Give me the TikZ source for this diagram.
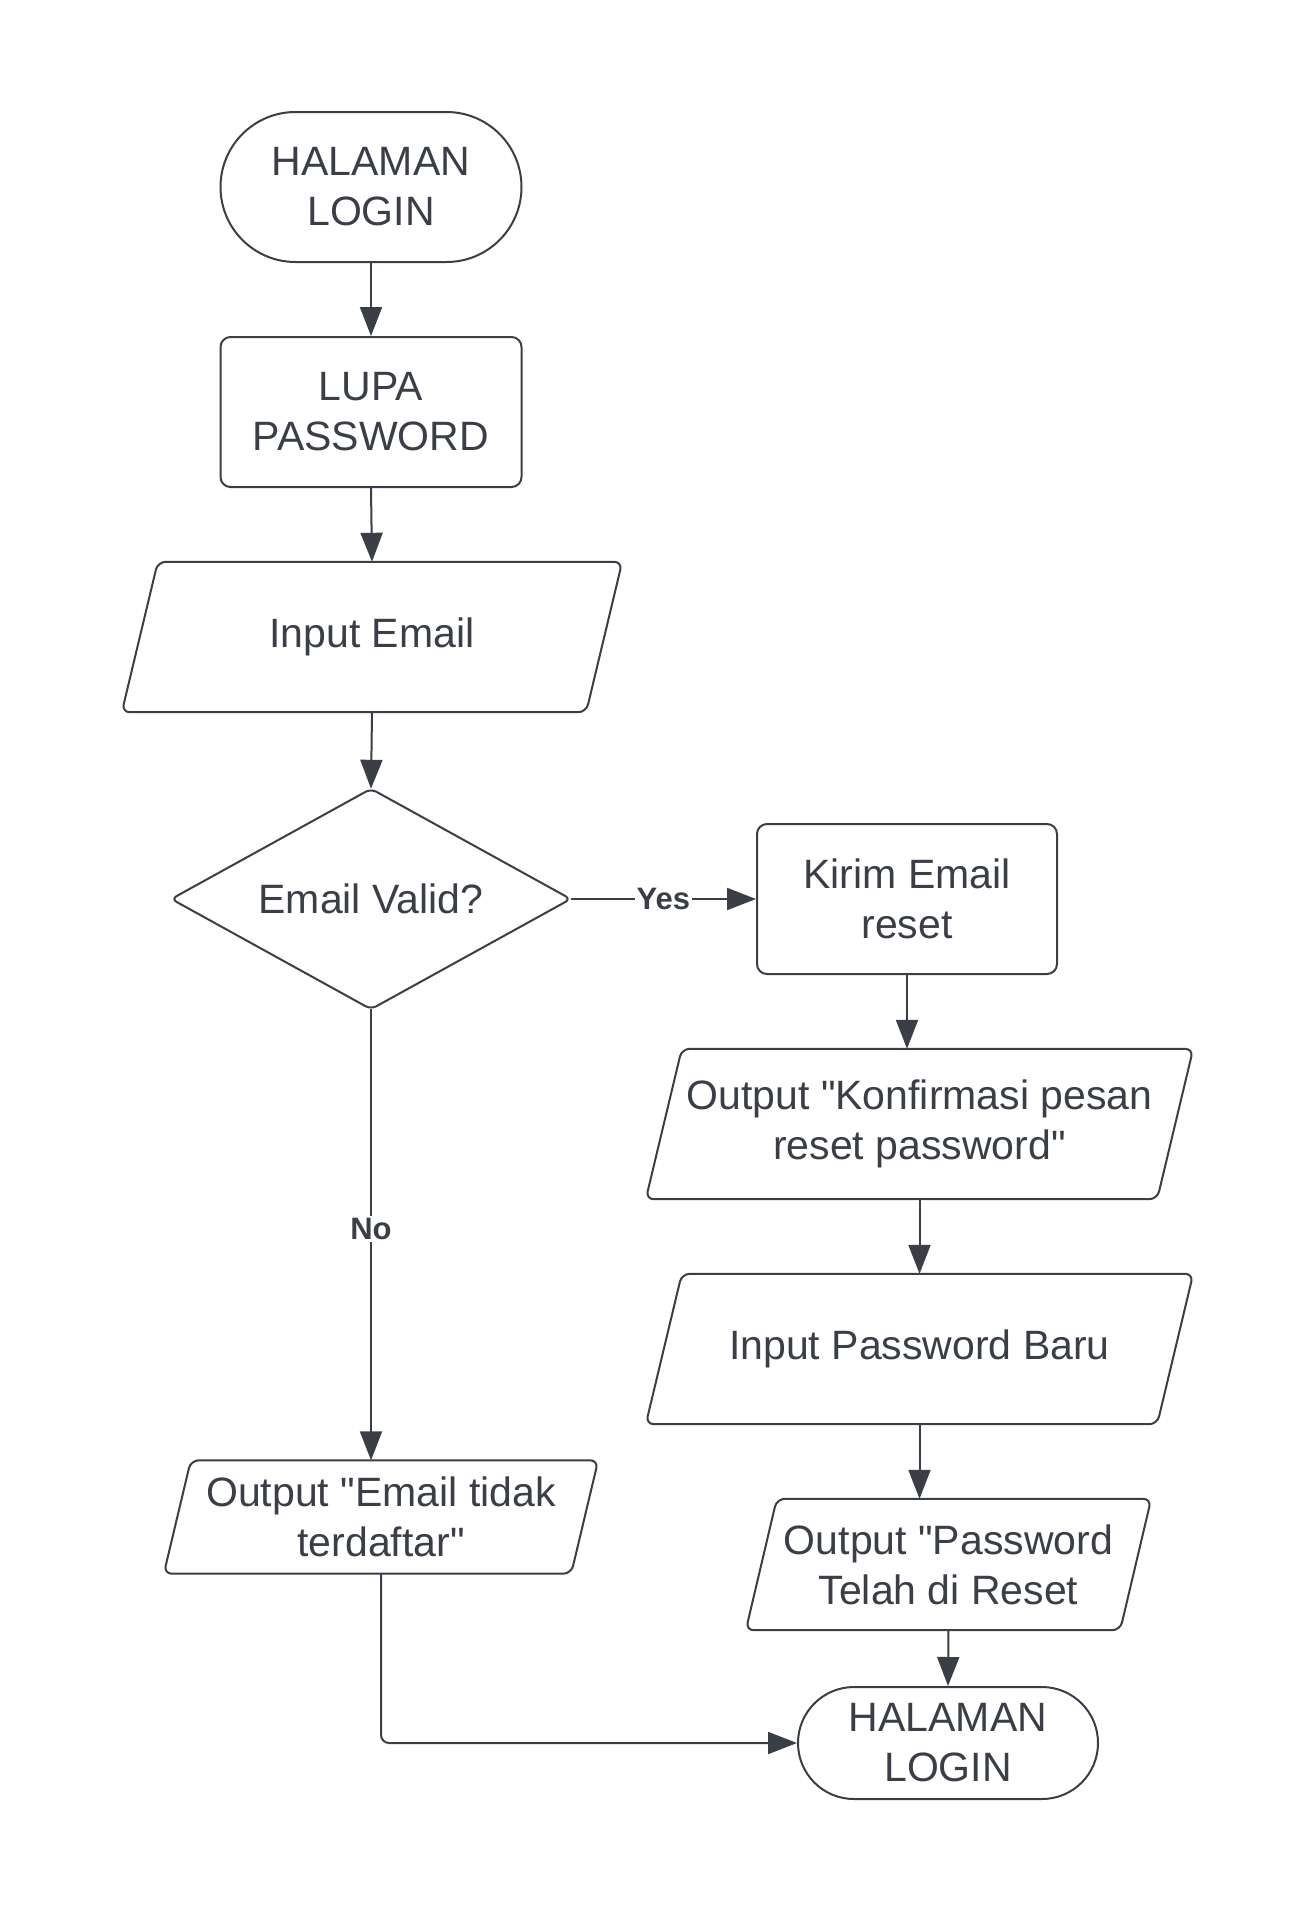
\documentclass[tikz,border=0pt]{standalone}
\usepackage{fontspec}
\setmainfont{Liberation Sans}[Ligatures=TeXOff]
\usetikzlibrary{arrows.meta,calc}
\definecolor{ink}{HTML}{3A3F47}
\begin{document}
\begin{tikzpicture}[x=1pt,y=-1pt,
  every node/.style={text=ink, font=\fontsize{41}{50}\selectfont, align=center, inner sep=0pt},
  shp/.style={draw=ink, line width=2pt},
  proc/.style={shp, rounded corners=10pt},
  term/.style={shp, rounded corners=#1},
  conn/.style={draw=ink, line width=2pt, -{Triangle[length=29pt,width=22pt]}},
  lbl/.style={font=\bfseries\fontsize{31}{36}\selectfont, fill=white, inner sep=2pt}]
\fill[white] (0,0) rectangle (1307,1909);
\useasboundingbox (0,0) rectangle (1307,1909);

\node[term=75pt, minimum width=301pt, minimum height=150pt] (start) at (371,187) {HALAMAN\\LOGIN};
\node[proc, minimum width=301pt, minimum height=150pt] (lupa) at (371,412) {LUPA\\PASSWORD};
\node[minimum width=500pt, minimum height=150pt] (inemail) at (372,637) {Input Email};
\node[minimum width=399pt, minimum height=220pt] (valid) at (371,899) {Email Valid?};
\node[proc, minimum width=300pt, minimum height=150pt] (kirim) at (907,899) {Kirim Email\\reset};
\node[minimum width=547pt, minimum height=150pt] (konf) at (919.5,1124) {Output "Konfirmasi pesan\\reset password"};
\node[minimum width=547pt, minimum height=150pt] (inpass) at (919.5,1349) {Input Password Baru};
\node[minimum width=405pt, minimum height=131pt] (outpass) at (948.5,1564.5) {Output "Password\\Telah di Reset};
\node[term=56pt, minimum width=300pt, minimum height=112pt] (finish) at (948,1743) {HALAMAN\\LOGIN};
\node[minimum width=434pt, minimum height=113pt] (outemail) at (381,1517) {Output "Email tidak\\terdaftar"};

\foreach \n/\s in {inemail/36, konf/36, inpass/36, outpass/31, outemail/27}
  \draw[shp, rounded corners=8pt] ($(\n.north west)+(\s,0)$) -- (\n.north east) -- ($(\n.south east)-(\s,0)$) -- (\n.south west) -- cycle;
\draw[shp, rounded corners=6pt] (valid.north) -- (valid.east) -- (valid.south) -- (valid.west) -- cycle;

\draw[conn] (start.south) -- (lupa.north);
\draw[conn] (lupa.south) -- (inemail.north);
\draw[conn] (inemail.south) -- (valid.north);
\draw[conn] (valid.east) -- node[lbl]{Yes} (kirim.west);
\draw[conn] (kirim.south) -- (kirim.south |- konf.north);
\draw[conn] (konf.south) -- (inpass.north);
\draw[conn] (inpass.south) -- (inpass.south |- outpass.north);
\draw[conn] (outpass.south) -- (finish.north);
\draw[conn] (valid.south) -- node[lbl, yshift=6pt]{No} (valid.south |- outemail.north);
\draw[conn, rounded corners=8pt] (outemail.south) |- (finish.west);
\end{tikzpicture}
\end{document}
